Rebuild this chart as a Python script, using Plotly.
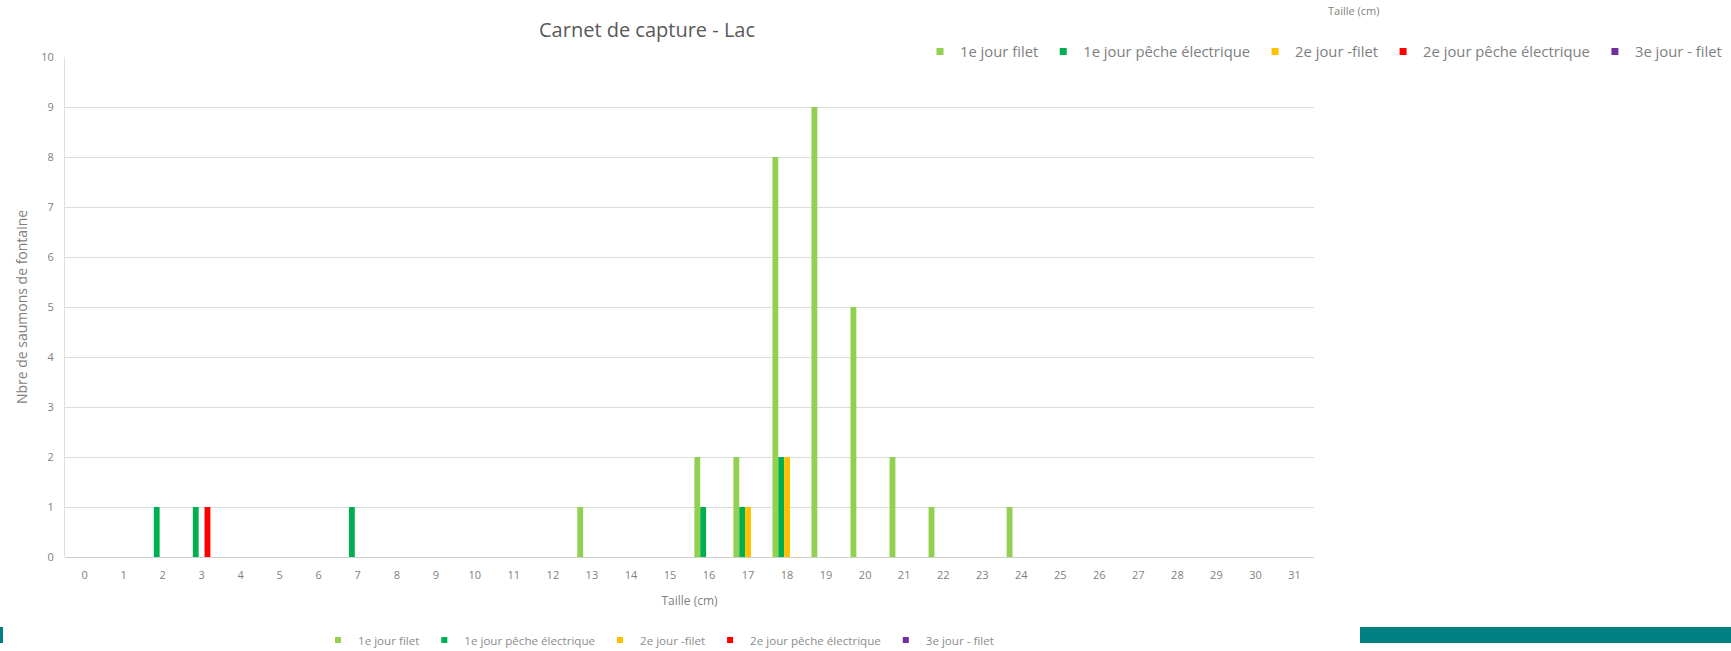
import plotly.graph_objects as go

# ---------------- data ----------------
categories = [str(i) for i in range(32)]
series_names = ["1e jour filet", "1e jour pêche électrique", "2e jour -filet",
                "2e jour pêche électrique", "3e jour - filet"]
jour1_filet = {"13": 1, "16": 2, "17": 2, "18": 8, "19": 9, "20": 5, "21": 2, "22": 1, "24": 1}
jour1_peche = {"2": 1, "3": 1, "7": 1, "16": 1, "17": 1, "18": 2}
jour2_filet = {"17": 1, "18": 2}
jour2_peche = {"3": 1}
jour3_filet = {}
series_values = [jour1_filet, jour1_peche, jour2_filet, jour2_peche, jour3_filet]
colors = ["#92D050", "#00B050", "#FFC000", "#FF0000", "#7030A0"]
y_ticks = list(range(0, 11))

# ---------------- layout geometry (pixels) ----------------
W, H = 1731, 651
L, R, T, B = 65, 1314, 57, 557


def px(x):
    return (x - L) / (R - L)


def py(y):
    return (B - y) / (B - T)


FONT = "Open Sans, Lato, sans-serif"
GRAY = "#7F7F7F"

fig = go.Figure()
for name, vals, col in zip(series_names, series_values, colors):
    fig.add_trace(go.Bar(
        x=categories,
        y=[vals.get(c, 0) for c in categories],
        name=name, marker_color=col, marker_line_width=0,
        legendgroup=name, showlegend=False,
    ))

# legend entries (top-right legend and bottom legend)
for name, col in zip(series_names, colors):
    fig.add_trace(go.Scatter(
        x=[None], y=[None], mode="markers", name=name, legendgroup=name,
        marker=dict(symbol="square", size=7, color=col), legend="legend",
    ))
for name, col in zip(series_names, colors):
    fig.add_trace(go.Scatter(
        x=[None], y=[None], mode="markers", name=name, legendgroup=name,
        marker=dict(symbol="square", size=6, color=col), legend="legend2",
    ))

fig.update_layout(
    width=W, height=H,
    margin=dict(l=L, r=W - R, t=T, b=H - B, pad=0, autoexpand=False),
    paper_bgcolor="white", plot_bgcolor="white",
    font=dict(family=FONT, color=GRAY, size=11),
    barmode="group", bargap=0.25, bargroupgap=0,
    showlegend=True,
    legend=dict(orientation="h", x=px(920), xanchor="left", y=py(52), yanchor="middle",
                font=dict(size=14.8, color="#808080", family=FONT), bgcolor="rgba(0,0,0,0)",
                itemclick=False, itemdoubleclick=False),
    legend2=dict(orientation="h", x=px(318), xanchor="left", y=py(640), yanchor="middle",
                 font=dict(size=11.6, color="#8C8C8C", family=FONT), bgcolor="rgba(0,0,0,0)",
                 itemclick=False, itemdoubleclick=False),
    xaxis=dict(
        type="category", categoryorder="array", categoryarray=categories,
        tickmode="array", tickvals=categories, ticktext=categories,
        showgrid=False, showline=False, zeroline=False, ticks="",
        automargin=False,
        ticklabelstandoff=10, tickfont=dict(size=11, color=GRAY),
        title=dict(text="Taille (cm)", font=dict(size=12, color=GRAY), standoff=15),
    ),
    yaxis=dict(
        range=[0, 10], tickmode="array", tickvals=y_ticks,
        showgrid=True, gridcolor="#DCDCDC", gridwidth=1,
        showline=True, linecolor="#D6E0F0", linewidth=1,
        zeroline=True, zerolinecolor="#CFCFCF", zerolinewidth=1,
        automargin=False,
        ticks="", ticklabelstandoff=8, tickfont=dict(size=11, color=GRAY),
        title=dict(text="Nbre de saumons de fontaine", font=dict(size=14, color=GRAY), standoff=10),
    ),
    shapes=[
        # white overlay hiding the top-right part of the chart
        dict(type="rect", xref="paper", yref="paper", x0=px(756), x1=px(W + 5),
             y0=py(88), y1=py(-5), fillcolor="white", line=dict(width=0), layer="above"),
        # teal band bottom right
        dict(type="rect", xref="paper", yref="paper", x0=px(1360), x1=px(W + 5),
             y0=py(643), y1=py(627), fillcolor="#008080", line=dict(width=0), layer="above"),
        # small teal mark bottom left
        dict(type="rect", xref="paper", yref="paper", x0=px(-2), x1=px(3),
             y0=py(643), y1=py(627), fillcolor="#008080", line=dict(width=0), layer="above"),
    ],
    annotations=[
        dict(text="Carnet de capture - Lac", xref="paper", yref="paper",
             x=px(537), y=py(30), xanchor="left", yanchor="middle", showarrow=False,
             font=dict(size=20, color="#595959", family=FONT)),
        dict(text="Taille (cm)", xref="paper", yref="paper",
             x=px(1353), y=py(1), xanchor="center", yanchor="top", showarrow=False,
             font=dict(size=11, color=GRAY, family=FONT)),
    ],
)

fig.write_html("out.html")
